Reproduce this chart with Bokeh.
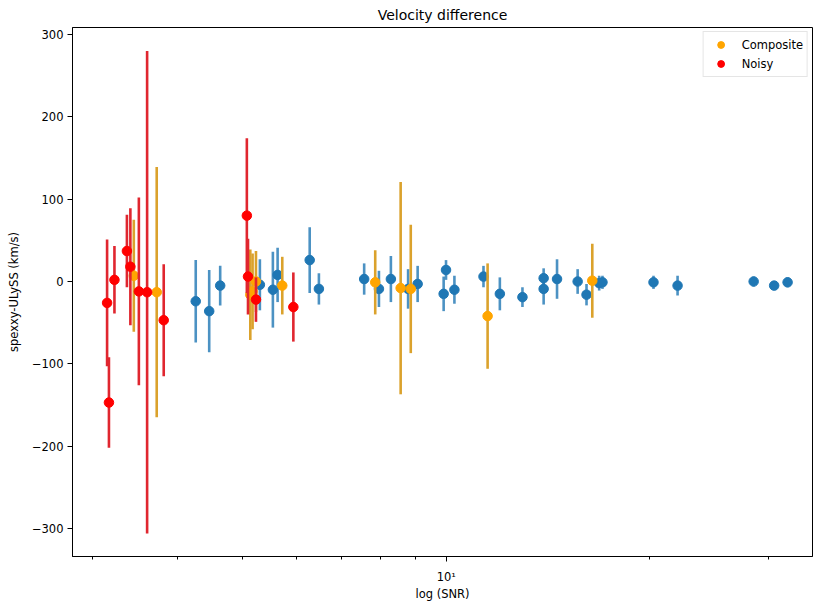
import math
from bokeh.plotting import figure
from bokeh.models import ColumnDataSource, Range1d, FixedTicker, Legend, LegendItem
from bokeh.embed import file_html
from bokeh.resources import INLINE

# ---- data ----
# all objects (no legend label)
main_snr = [4.26, 4.46, 4.63, 5.30, 5.54, 5.63, 6.28, 6.48, 7.56, 7.95, 8.28, 8.78,
            9.07, 9.91, 9.99, 10.28, 11.35, 12.00, 12.96, 13.93, 13.93, 14.58, 15.64,
            16.12, 16.83, 17.02, 20.25, 21.98, 28.48, 30.54, 31.97]
main_dv = [-24, -36, -5, -4, -10, 8, 26, -9, 3, -9, 3, -9,
           -3, -15, 14, -10, 6, -15, -19, 4, -9, 3, 0,
           -16, -2, -1, -1, -5, 0, -5, -1]
main_err = [50, 50, 24, 31, 46, 33, 40, 19, 19, 22, 28, 24,
            22, 21, 12, 17, 13, 20, 12, 12, 19, 24, 15,
            13, 9, 8, 8, 12, 6, 4, 6]

# Composite
comp_snr = [3.45, 3.73, 5.13, 5.17, 5.23, 5.72, 7.85, 8.56, 8.86, 11.51, 16.44]
comp_dv = [7, -13, -16, -12, 0, -5, -1, -8, -9, -42, 1]
comp_err = [68, 152, 55, 46, 37, 35, 39, 129, 78, 64, 45]

# Noisy
noisy_snr = [3.15, 3.17, 3.23, 3.37, 3.41, 3.51, 3.61, 3.82, 5.07, 5.09, 5.23, 5.94]
noisy_dv = [-26, -147, 2, 37, 18, -12, -13, -47, 80, 6, -22, -31]
noisy_err = [77, 55, 41, 44, 71, 114, 293, 68, 94, 46, 27, 42]

y_ticks = [-300, -200, -100, 0, 100, 200, 300]
x_major = [10]
x_minor = [3, 4, 5, 6, 7, 8, 9, 20, 30]

FONT = "DejaVu Sans"


def make_source(snr, dv, err):
    return ColumnDataSource(dict(
        x=snr, y=dv,
        lo=[v - e for v, e in zip(dv, err)],
        hi=[v + e for v, e in zip(dv, err)],
    ))


p = figure(width=814, height=603, x_axis_type="log",
           x_range=Range1d(2.80, 34.8), y_range=Range1d(-334, 308.5),
           output_backend="svg", toolbar_location=None,
           title="Velocity difference",
           min_border_left=72, min_border_right=2, min_border_top=26, min_border_bottom=47)

p.background_fill_color = "white"
p.border_fill_color = "white"
p.outline_line_color = "black"
p.outline_line_width = 1
p.grid.visible = False

p.title.align = "center"
p.title.text_font = FONT
p.title.text_font_size = "14px"
p.title.text_font_style = "normal"
p.title.text_color = "black"
p.title.standoff = 9
p.title.text_line_height = 0.8

for ax in (p.xaxis[0], p.yaxis[0]):
    ax.axis_line_color = "black"
    ax.major_tick_line_color = "black"
    ax.minor_tick_line_color = "black"
    ax.major_tick_in = 0
    ax.major_tick_out = 5
    ax.minor_tick_in = 0
    ax.minor_tick_out = 3
    ax.major_label_text_font = FONT
    ax.major_label_text_font_size = "11.5px"
    ax.major_label_text_color = "black"
    ax.axis_label_text_font = FONT
    ax.axis_label_text_font_size = "11.5px"
    ax.axis_label_text_font_style = "normal"
    ax.axis_label_text_color = "black"

p.xaxis.ticker = FixedTicker(ticks=x_major, minor_ticks=x_minor)
p.xaxis.major_label_overrides = {10: "10\u00b9"}
p.xaxis.axis_label = "log (SNR)"
p.xaxis.major_label_standoff = 8
p.xaxis.axis_label_standoff = 0

p.yaxis.ticker = FixedTicker(ticks=y_ticks, minor_ticks=[])
p.yaxis.major_label_overrides = {t: ("\u2212%d" % -t if t < 0 else str(t)) for t in y_ticks}
p.yaxis.axis_label = "spexxy-ULySS (km/s)"
p.yaxis.major_label_standoff = 4
p.yaxis.axis_label_standoff = 8

series = [
    (main_snr, main_dv, main_err, "#1f77b4", "#1f77b4", 0.8, None),
    (comp_snr, comp_dv, comp_err, "#ffa500", "#dba22c", 1.0, "Composite"),
    (noisy_snr, noisy_dv, noisy_err, "#ff0000", "#e0262f", 1.0, "Noisy"),
]

items = []
for snr, dv, err, mcol, ecol, ealpha, label in series:
    src = make_source(snr, dv, err)
    p.segment(x0="x", y0="lo", x1="x", y1="hi", source=src,
              line_color=ecol, line_alpha=ealpha, line_width=2.6)
    r = p.scatter(x="x", y="y", source=src, marker="circle", size=9.5,
                  fill_color=mcol, line_color=mcol)
    if label:
        items.append(LegendItem(label=label, renderers=[r]))

legend = Legend(items=items, location="top_right")
legend.margin = 4
legend.padding = 4
legend.spacing = 2
legend.glyph_width = 26
legend.glyph_height = 17
legend.label_height = 17
legend.label_standoff = 8
legend.label_text_font = FONT
legend.label_text_font_size = "11.5px"
legend.label_text_color = "black"
legend.border_line_color = "#cccccc"
legend.border_line_width = 1
legend.background_fill_color = "white"
legend.background_fill_alpha = 0.8
p.add_layout(legend)

open("out.html", "w").write(file_html(p, INLINE))
